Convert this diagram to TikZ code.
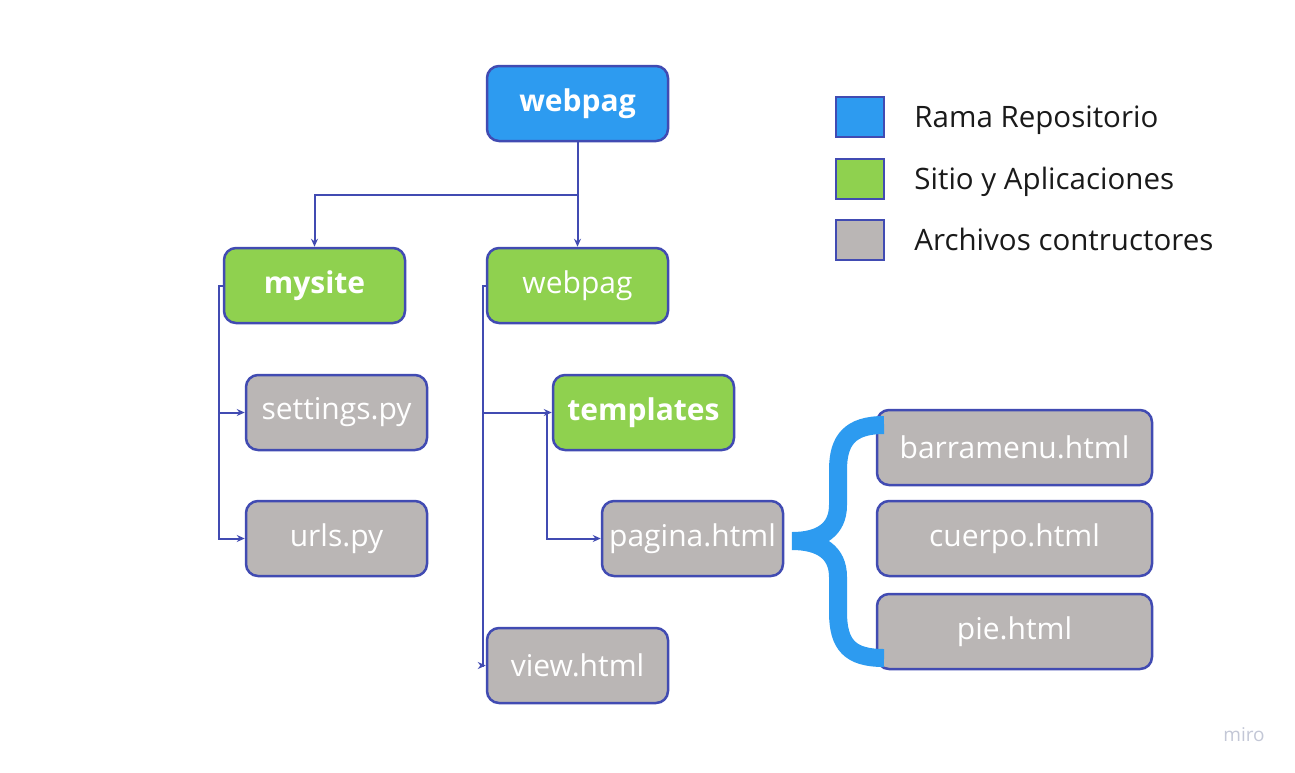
\documentclass[tikz,border=0pt]{standalone}
\usepackage{fontspec}
\setmainfont{Open Sans}
\usetikzlibrary{positioning, arrows.meta}

\definecolor{rama}{HTML}{2D9BF0}
\definecolor{sitio}{HTML}{8FD14F}
\definecolor{archivo}{HTML}{BAB6B5}
\definecolor{borde}{HTML}{414BB2}
\definecolor{letra}{HTML}{1A1A1A}
\definecolor{marca}{HTML}{C3C7D6}

\begin{document}
\begin{tikzpicture}[x=1pt, y=-1pt, >={Stealth[length=8pt,width=7pt]},
  caja/.style={draw=borde, line width=2.5pt, rounded corners=12pt,
    minimum width=181pt, minimum height=75pt, text=white,
    font=\fontsize{30}{34}\selectfont},
  negrita/.style={font=\fontsize{30}{34}\selectfont\bfseries},
  ancha/.style={caja, minimum width=275pt},
  flecha/.style={draw=borde, line width=2pt},
  muestra/.style={draw=borde, line width=2.5pt, minimum width=48pt, minimum height=40pt},
  leyenda/.style={inner sep=0pt, text=letra, text height=21pt, text depth=0pt,
    font=\fontsize{29.5}{34}\selectfont}]
\useasboundingbox (0,0) rectangle (1295,772);

% arbol
\node[caja, fill=rama, negrita] (raiz) at (577.5,103.5) {webpag};
\node[caja, fill=sitio, negrita] (mysite) at (314.5,285.5) {mysite};
\node[caja, fill=sitio] (web) at (577.5,285.5) {webpag};
\node[caja, fill=archivo] (settings) at (336.5,412.5) {settings.py};
\node[caja, fill=archivo] (urls) at (336.5,538.5) {urls.py};
\node[caja, fill=sitio, negrita] (plantillas) at (643.5,412.5) {templates};
\node[caja, fill=archivo] (pagina) at (692.5,538.5) {pagina.html};
\node[caja, fill=archivo] (vista) at (577.5,665.5) {view.html};
\node[ancha, fill=archivo] (barra) at (1014.5,447.5) {barramenu.html};
\node[ancha, fill=archivo] (cuerpo) at (1014.5,538.5) {cuerpo.html};
\node[ancha, fill=archivo] (pie) at (1014.5,631.5) {pie.html};

\draw[flecha,->] (raiz.south) -- ++(0,53) coordinate (r1) -| (mysite.north);
\draw[flecha,->] (r1) -- (web.north);

\draw[flecha,->] (mysite.west) -- ++(-4,0) coordinate (m1) |- (urls.west);
\draw[flecha,->] (m1 |- settings.west) -- (settings.west);

\draw[flecha,->] (web.west) -- ++(-3,0) coordinate (w1) |- (vista.west);
\draw[flecha,->] (w1 |- plantillas.west) -- (plantillas.west);

\draw[flecha,->] (plantillas.west) ++(-5,0) |- (pagina.west);

% llave
\draw[rama, line width=18pt]
  (884,425) .. controls (850,425) and (838,440) .. (838,470) -- (838,505)
  .. controls (838,530) and (820,541) .. (792,541)
  .. controls (820,541) and (838,552) .. (838,577) -- (838,612)
  .. controls (838,645) and (850,658) .. (884,658);

% leyenda
\node[muestra, fill=rama] (lrama) at (860,117) {};
\node[muestra, fill=sitio] (lsitio) at (860,179) {};
\node[muestra, fill=archivo] (larchivo) at (860,240) {};
\node[leyenda, right=29pt of lrama] (trama) {Rama Repositorio};
\node[leyenda, right=29pt of lsitio] (tsitio) {Sitio y Aplicaciones};
\node[leyenda, right=29pt of larchivo] (tarchivo) {Archivos contructores};

\node[text=marca, font=\fontsize{19}{21}\selectfont] (miro) at (1244,735) {miro};
\end{tikzpicture}
\end{document}
